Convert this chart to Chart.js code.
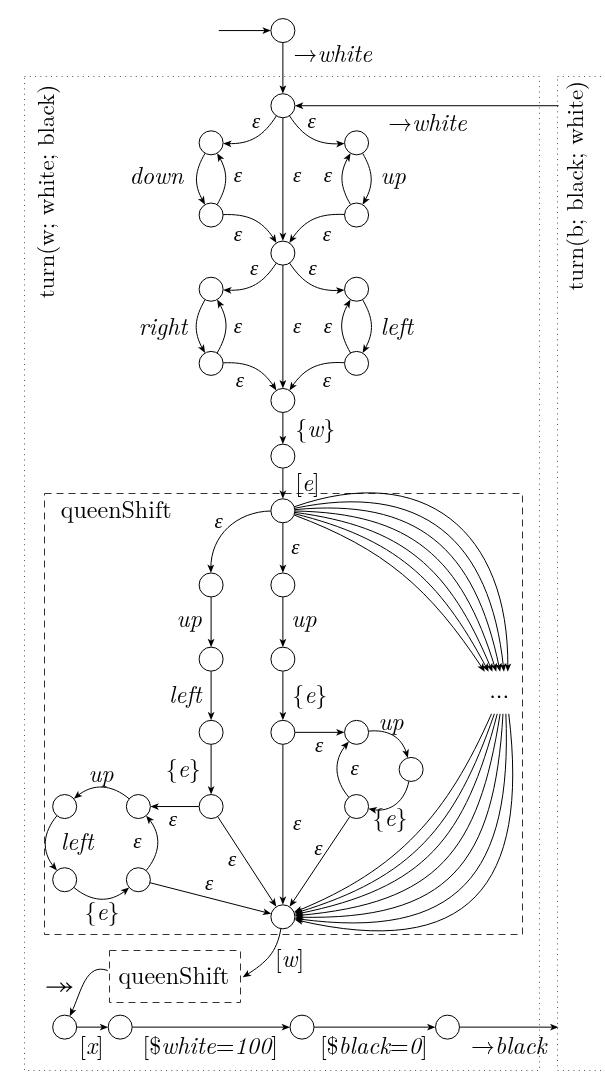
<!DOCTYPE html>
<html>
<head>
<meta charset="utf-8">
<script src="https://cdn.jsdelivr.net/npm/chart.js@4"></script>
<style>
  html, body { margin: 0; padding: 0; background: #fff; overflow: hidden; }
  canvas { display: block; }
</style>
</head>
<body>
<canvas id="c" width="605" height="1086"></canvas>
<script>
// states of the automaton (circles)
const stateNames = ['N0','N1','A1','A2','B1','B2','N2','C1','C2','D1','D2','N3','N4',
                    'Q0','Q1','Q5','Q2','Q6','Q3','Q7','R1','R2','R3','Q4','L1','L0','L3','L2','Q8',
                    'X0','X1','X2','X3'];
const stateX = [282,282,207,207,359,359,282,207,207,359,359,282,282,
                282,207,282,207,282,207,282,359,416,359,207,131,54,54,131,282,
                54,112,302,454];
const stateY = [18,95,133,207,133,207,246,283,359,283,359,397,454,
                510,586,586,662,662,737,737,737,775,813,813,813,813,888,888,926,
                1039,1039,1039,1039];

// bare coordinates where edges start / end
const pointNames = ['Pin','Pright','Pbr','Pbl','Pout'];
const pointX = [215,570,240,99,570];
const pointY = [18,95,988,981,1039];

// fan of edges queenShift start -> "..." -> end
const fanTopX = [493,497,501,505,509,513,517];
const fanTopY = 675;
const fanTopBend = [18,24,30,36,42,48,55];
const fanTopLoose = [1,1.05,1.1,1.15,1.2,1.25,1.3];
const fanBotX = [500,503,506,509,512,515,518];
const fanBotY = 718;
const fanBotBend = [22,27,32,38,44,50,55];
const fanBotLoose = [1,1.08,1.16,1.24,1.32,1.4,1.5];

// [from, to, bend (deg, or [out,in]), looseness]
const edges = [
  ['Pin','N0',0], ['N0','N1',0], ['Pright','N1',0],
  ['N1','A1',30], ['N1','B1',-30], ['A1','A2',-30], ['A2','A1',-30],
  ['B1','B2',30], ['B2','B1',30], ['N1','N2',0], ['A2','N2',30], ['B2','N2',-30],
  ['N2','C1',30], ['N2','D1',-30], ['C1','C2',-30], ['C2','C1',-30],
  ['D1','D2',30], ['D2','D1',30], ['N2','N3',0], ['C2','N3',30], ['D2','N3',-30],
  ['N3','N4',0], ['N4','Q0',0],
  ['Q0','Q1',-45], ['Q0','Q5',0], ['Q1','Q2',0], ['Q2','Q3',0], ['Q3','Q4',0],
  ['Q5','Q6',0], ['Q6','Q7',0], ['Q7','R1',0],
  ['R1','R2',40], ['R2','R3',45], ['R3','R1',40],
  ['Q4','L1',0], ['L1','L0',-40], ['L0','L3',-40], ['L3','L2',-40], ['L2','L1',-40],
  ['L2','Q8',0], ['Q4','Q8',0], ['Q7','Q8',0], ['R3','Q8',0],
  ['Q8','Pbr',24], ['Pbl','X0',[200,295]],
  ['X0','X1',0], ['X1','X2',0], ['X2','X3',0], ['X3','Pout',0]
];

// edge labels: [text, x, y, align]
const labels = [
  ['\u2192white',293,43,'left'], ['\u2192white',392,113,'left'],
  ['down',178,168,'right'], ['up',384,168,'left'],
  ['right',182,322,'right'], ['left',384,322,'left'],
  ['{w}',295,427,'left'], ['[e]',295,482,'left'],
  ['up',184,622], ['up',304,622], ['left',180,699], ['{e}',310,699],
  ['up',395,727], ['{e}',178,775], ['up',92,780], ['{e}',394,825],
  ['left',67,850], ['{e}',93,922], ['[w]',289,970],
  ['[x]',82,1059], ['[$white=100]',206,1059], ['[$black=0]',377,1059], ['\u2192black',518,1059]
];
// epsilon labels
const epsX = [254,312,235,297,329,235,328,252,313,235,297,329,237,328,
              215,295,320,167,357,297,130,229,319,205];
const epsY = [112,112,168,168,168,228,228,263,263,322,322,322,378,378,
              522,549,751,827,775,831,850,868,857,893];

// upright texts
const plainText = ['queenShift','queenShift','...'];
const plainX = [50,168,508];
const plainY = [510,987,694];
const plainAlign = ['left','center','center'];

const sideText = ['turn(w; white; black)','turn(b; black; white)'];
const sideX = [35,588];
const sideY = [183,177];

// frames: [x0, y0, x1, y1, kind]
const frames = [
  [12,65,550,1083,'dot'], [568,65,640,1083,'dot'],
  [32,492,532,944,'dash'], [100,960,237,1013,'dash']
];

const R = 12;
const DEG = Math.PI / 180;
const LM = '"Latin Modern Roman", "DejaVu Serif", serif';
const UPRIGHT = '{}[]$=\u2192';

function diagramPos(chart, name) {
  const sx = chart.scales.x, sy = chart.scales.y;
  let i = stateNames.indexOf(name);
  if (i >= 0) return { x: sx.getPixelForValue(stateX[i]), y: sy.getPixelForValue(stateY[i]), r: R };
  i = pointNames.indexOf(name);
  if (i >= 0) return { x: sx.getPixelForValue(pointX[i]), y: sy.getPixelForValue(pointY[i]), r: 0 };
  return { x: sx.getPixelForValue(name[0]), y: sy.getPixelForValue(name[1]), r: 0 };
}

function arrowTip(ctx, x3, y3, arr) {
  const L = 8.5, W = 3.4, c = Math.cos(arr), s = Math.sin(arr);
  ctx.beginPath();
  ctx.moveTo(x3, y3);
  ctx.lineTo(x3 - L * c + W * s, y3 - L * s - W * c);
  ctx.lineTo(x3 - 0.75 * L * c, y3 - 0.75 * L * s);
  ctx.lineTo(x3 - L * c - W * s, y3 - L * s + W * c);
  ctx.closePath();
  ctx.fill();
}

function drawEdge(ctx, a, b, bend, loose) {
  const th = Math.atan2(b.y - a.y, b.x - a.x);
  let outA, inA;
  if (Array.isArray(bend)) { outA = bend[0] * DEG; inA = bend[1] * DEG; }
  else { outA = th - bend * DEG; inA = th + Math.PI + bend * DEG; }
  const x0 = a.x + a.r * Math.cos(outA), y0 = a.y + a.r * Math.sin(outA);
  const x3 = b.x + b.r * Math.cos(inA), y3 = b.y + b.r * Math.sin(inA);
  const k = 0.3915 * (loose || 1) * Math.hypot(x3 - x0, y3 - y0);
  const arr = inA + Math.PI;
  const ex = x3 - 4 * Math.cos(arr), ey = y3 - 4 * Math.sin(arr);
  ctx.beginPath();
  ctx.moveTo(x0, y0);
  if (bend === 0) ctx.lineTo(ex, ey);
  else ctx.bezierCurveTo(x0 + k * Math.cos(outA), y0 + k * Math.sin(outA),
                         ex + k * Math.cos(inA), ey + k * Math.sin(inA), ex, ey);
  ctx.stroke();
  arrowTip(ctx, x3, y3, arr);
}

// math-like label: letters italic, brackets / symbols upright
function mathText(ctx, text, x, y, align) {
  const it = 'italic 24px ' + LM, up = '24px ' + LM;
  const runs = [];
  for (const ch of text) {
    const f = UPRIGHT.includes(ch) ? up : it;
    if (runs.length && runs[runs.length - 1].f === f) runs[runs.length - 1].t += ch;
    else runs.push({ f, t: ch });
  }
  let w = 0;
  runs.forEach(r => { ctx.font = r.f; r.w = ctx.measureText(r.t).width; w += r.w; });
  let cx = align === 'left' ? x : align === 'right' ? x - w : x - w / 2;
  ctx.textAlign = 'left';
  runs.forEach(r => { ctx.font = r.f; ctx.fillText(r.t, cx, y); cx += r.w; });
}

const diagramPlugin = {
  id: 'diagram',
  beforeDatasetsDraw(chart) {
    const ctx = chart.ctx, sx = chart.scales.x, sy = chart.scales.y;
    ctx.save();
    frames.forEach(f => {
      const x0 = Math.round(sx.getPixelForValue(f[0])) + 0.5, y0 = Math.round(sy.getPixelForValue(f[1])) + 0.5;
      const x1 = Math.round(sx.getPixelForValue(f[2])) + 0.5, y1 = Math.round(sy.getPixelForValue(f[3])) + 0.5;
      ctx.lineWidth = 1;
      if (f[4] === 'dot') { ctx.setLineDash([1, 4.3]); ctx.strokeStyle = '#555'; }
      else { ctx.setLineDash([7, 5]); ctx.strokeStyle = '#333'; }
      ctx.strokeRect(x0, y0, x1 - x0, y1 - y0);
    });
    ctx.setLineDash([]);
    ctx.strokeStyle = '#000';
    ctx.fillStyle = '#000';
    ctx.lineWidth = 1;
    edges.forEach(e => drawEdge(ctx, diagramPos(chart, e[0]), diagramPos(chart, e[1]), e[2], e[3]));
    fanTopX.forEach((x, i) => drawEdge(ctx, diagramPos(chart, 'Q0'), diagramPos(chart, [x, fanTopY]), fanTopBend[i], fanTopLoose[i]));
    fanBotX.forEach((x, i) => drawEdge(ctx, diagramPos(chart, [x, fanBotY]), diagramPos(chart, 'Q8'), fanBotBend[i], fanBotLoose[i]));
    // two-headed start marker
    const ax = sx.getPixelForValue(35), bx = sx.getPixelForValue(61), ay = sy.getPixelForValue(998);
    ctx.lineWidth = 1.2;
    ctx.beginPath();
    ctx.moveTo(ax, ay); ctx.lineTo(bx, ay);
    [bx, bx - 6].forEach(tx => {
      ctx.moveTo(tx - 5, ay - 4.5); ctx.quadraticCurveTo(tx - 2, ay - 1, tx, ay);
      ctx.quadraticCurveTo(tx - 2, ay + 1, tx - 5, ay + 4.5);
    });
    ctx.stroke();
    ctx.restore();
  },
  afterDatasetsDraw(chart) {
    const ctx = chart.ctx, sx = chart.scales.x, sy = chart.scales.y;
    ctx.save();
    ctx.fillStyle = '#000';
    ctx.textBaseline = 'middle';
    labels.forEach(l => mathText(ctx, l[0], sx.getPixelForValue(l[1]), sy.getPixelForValue(l[2]), l[3] || 'center'));
    ctx.textAlign = 'center';
    ctx.font = 'italic 21px "Liberation Serif", serif';
    epsX.forEach((x, i) => ctx.fillText('\u03b5', sx.getPixelForValue(x), sy.getPixelForValue(epsY[i])));
    ctx.font = '24px ' + LM;
    plainText.forEach((t, i) => {
      ctx.textAlign = plainAlign[i];
      ctx.fillText(t, sx.getPixelForValue(plainX[i]), sy.getPixelForValue(plainY[i]));
    });
    ctx.textAlign = 'center';
    ctx.font = '23px ' + LM;
    sideText.forEach((t, i) => {
      ctx.save();
      ctx.translate(sx.getPixelForValue(sideX[i]), sy.getPixelForValue(sideY[i]));
      ctx.rotate(-Math.PI / 2);
      ctx.fillText(t, 0, 0);
      ctx.restore();
    });
    ctx.restore();
  }
};

new Chart(document.getElementById('c'), {
  type: 'scatter',
  data: {
    datasets: [{
      data: stateNames.map((n, i) => ({ x: stateX[i], y: stateY[i] })),
      pointRadius: R,
      pointHoverRadius: R,
      pointBackgroundColor: '#fff',
      pointBorderColor: '#000',
      pointBorderWidth: 1
    }]
  },
  options: {
    responsive: false,
    animation: false,
    events: [],
    layout: { padding: 0 },
    plugins: { legend: { display: false }, tooltip: { enabled: false } },
    scales: {
      x: { type: 'linear', min: 0, max: 605, display: false },
      y: { type: 'linear', min: 0, max: 1086, reverse: true, display: false }
    }
  },
  plugins: [diagramPlugin]
});
</script>
</body>
</html>
